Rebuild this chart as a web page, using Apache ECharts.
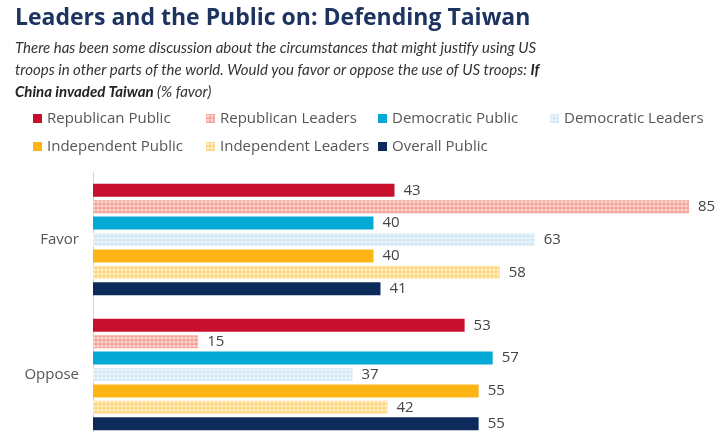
<!DOCTYPE html>
<html>
<head>
<meta charset="utf-8">
<script src="https://cdn.jsdelivr.net/npm/echarts@6/dist/echarts.min.js"></script>
<style>
  html, body { margin: 0; padding: 0; background: #fff; }
  #main { width: 723px; height: 432px; }
</style>
</head>
<body>
<div id="main"></div>
<script>
var categories = ['Favor', 'Oppose'];
var seriesNames = ['Republican Public', 'Republican Leaders', 'Democratic Public', 'Democratic Leaders',
                   'Independent Public', 'Independent Leaders', 'Overall Public'];
var republicanPublic = [43, 53];
var republicanLeaders = [85, 15];
var democraticPublic = [40, 57];
var democraticLeaders = [63, 37];
var independentPublic = [40, 55];
var independentLeaders = [58, 42];
var overallPublic = [41, 55];

var values = [republicanPublic, republicanLeaders, democraticPublic, democraticLeaders,
              independentPublic, independentLeaders, overallPublic];
var colors = ['#c8102e', '#f3a194', '#05a9d6', '#d3e8f6', '#fdb515', '#fdd67c', '#0c2a5a'];
var dotted = [false, true, false, true, false, true, false];

var font = '"Open Sans", "DejaVu Sans", sans-serif';

var myChart = echarts.init(document.getElementById('main'));

var series = seriesNames.map(function (name, i) {
    var style = { color: colors[i] };
    if (dotted[i]) {
        style.decal = {
            symbol: 'circle',
            symbolSize: 0.8,
            color: 'rgba(255,255,255,0.6)',
            dashArrayX: [4, 0],
            dashArrayY: [4, 0]
        };
    }
    return {
        name: name,
        type: 'bar',
        data: values[i],
        barWidth: 13,
        barGap: '26%',
        itemStyle: style,
        label: {
            show: true,
            position: 'right',
            distance: 9,
            color: '#444',
            fontSize: 15,
            fontFamily: font
        }
    };
});

// legend laid out in fixed columns, one small legend per entry
var legendCols = [33, 206, 378, 550];
var legends = seriesNames.map(function (name, i) {
    return {
        left: legendCols[i % 4], top: i < 4 ? 111 : 139, padding: 0,
        data: [name],
        itemWidth: 9, itemHeight: 9,
        icon: 'rect',
        textStyle: { color: '#555', fontSize: 15, fontFamily: font }
    };
});

var option = {
    animation: false,
    title: {
        left: 10,
        top: 2,
        text: 'Leaders and the Public on: Defending Taiwan',
        textStyle: { color: '#1d3461', fontSize: 23, fontWeight: 'bold', fontFamily: font },
        itemGap: 7,
        subtext: '{i|There has been some discussion about the circumstances that might justify using US}\n' +
                 '{i|troops in other parts of the world. Would you favor or oppose the use of US troops: }{b|If}\n' +
                 '{b|China invaded Taiwan}{i| (% favor)}',
        subtextStyle: {
            lineHeight: 22,
            rich: {
                i: { fontStyle: 'italic', fontSize: 15, color: '#333', fontFamily: 'Lato, "Open Sans", sans-serif', lineHeight: 22 },
                b: { fontStyle: 'italic', fontWeight: 'bold', fontSize: 15, color: '#222', fontFamily: 'Lato, "Open Sans", sans-serif', lineHeight: 22 }
            }
        }
    },
    legend: legends,
    grid: { left: 93, right: 34, top: 172, bottom: -10, outerBoundsMode: 'none', containLabel: false },
    xAxis: {
        type: 'value',
        min: 0,
        max: 85,
        show: false
    },
    yAxis: {
        type: 'category',
        inverse: true,
        data: categories,
        axisLine: { show: true, lineStyle: { color: '#d5d5d5' } },
        axisTick: { show: false },
        axisLabel: { color: '#555', fontSize: 15, fontFamily: font, margin: 14 }
    },
    series: series
};
myChart.setOption(option);
</script>
</body>
</html>
